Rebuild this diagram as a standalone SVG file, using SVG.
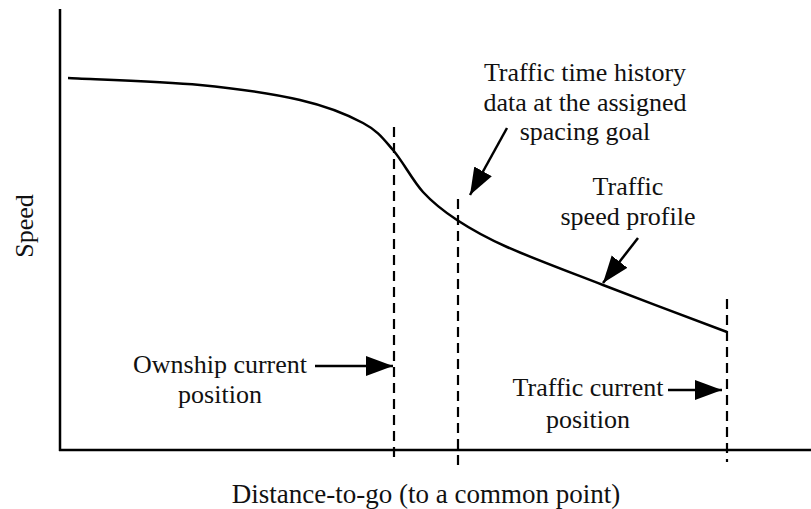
<svg xmlns="http://www.w3.org/2000/svg" width="811" height="509" viewBox="0 0 811 509">
  <style>
    .lbl { font-family: "Liberation Serif", "Times New Roman", serif; font-size: 26px; fill: #111; text-anchor: middle; }
    .axis { stroke: #000; stroke-width: 2.5; fill: none; }
    .curve { stroke: #000; stroke-width: 2.5; fill: none; }
    .dash { stroke: #000; stroke-width: 2.2; stroke-dasharray: 10 6; fill: none; }
    .arrow { stroke: #000; stroke-width: 2.5; fill: none; marker-end: url(#head); }
  </style>
  <defs>
    <marker id="head" markerUnits="userSpaceOnUse" markerWidth="28" markerHeight="22" viewBox="0 0 28 22" refX="27" refY="11" orient="auto">
      <path d="M0,1 L27,11 L0,21 z" fill="#000"/>
    </marker>
  </defs>
  <rect width="811" height="509" fill="#fff"/>

  <g id="axes">
    <line class="axis" x1="60" y1="9" x2="60" y2="451"/>
    <line class="axis" x1="59" y1="450" x2="811" y2="450"/>
  </g>

  <g id="speed-profile-curve">
    <path class="curve" d="M68,78 C90,79.2 161.3,81.3 200,85 C238.7,88.7 272.8,93.7 300,100 C327.2,106.3 347.5,114.7 363,123 C378.5,131.3 383,138.5 393,150 C403,161.5 412.3,180.3 423,192 C433.7,203.7 443,210.8 457,220 C471,229.2 482.7,236.2 507,247 C531.3,257.8 566.3,270.8 603,285 C639.7,299.2 706.3,324.2 727,332"/>
  </g>

  <g id="markers">
    <line id="ownship-line" class="dash" x1="394" y1="127" x2="394" y2="462"/>
    <line id="spacing-goal-line" class="dash" x1="458" y1="199" x2="458" y2="467"/>
    <line id="traffic-line" class="dash" x1="727" y1="299" x2="727" y2="462"/>
  </g>

  <g id="connectors">
    <line class="arrow" x1="507" y1="128" x2="470" y2="195"/>
    <line class="arrow" x1="638" y1="238" x2="603" y2="283"/>
    <line class="arrow" x1="315" y1="366" x2="393" y2="366"/>
    <line class="arrow" x1="668" y1="390" x2="722" y2="390"/>
  </g>

  <g id="label-time-history">
    <text class="lbl" x="585" y="81">Traffic time history</text>
    <text class="lbl" x="585" y="111">data at the assigned</text>
    <text class="lbl" x="585" y="140">spacing goal</text>
  </g>

  <g id="label-speed-profile">
    <text class="lbl" x="628" y="195">Traffic</text>
    <text class="lbl" x="628" y="225">speed profile</text>
  </g>

  <g id="label-ownship">
    <text class="lbl" x="220" y="373">Ownship current</text>
    <text class="lbl" x="220" y="403">position</text>
  </g>

  <g id="label-traffic-current">
    <text class="lbl" x="588" y="396">Traffic current</text>
    <text class="lbl" x="588" y="428">position</text>
  </g>

  <g id="label-x-axis">
    <text class="lbl" x="426" y="503" style="font-size:27px">Distance-to-go (to a common point)</text>
  </g>

  <g id="label-y-axis">
    <text class="lbl" transform="translate(33,226) rotate(-90)">Speed</text>
  </g>
</svg>
